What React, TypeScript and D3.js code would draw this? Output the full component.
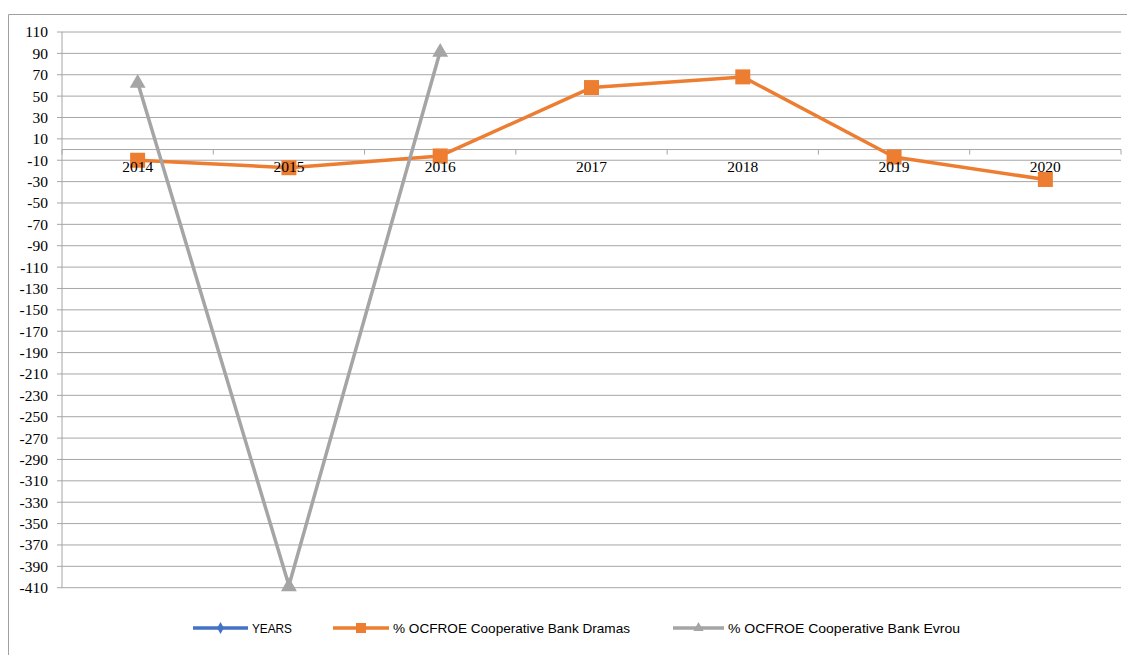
import React from "react";
import * as d3 from "d3";

const years = ["2014", "2015", "2016", "2017", "2018", "2019", "2020"];
const yearsSeries = [2014, 2015, 2016, 2017, 2018, 2019, 2020];
const dramas = [-10, -17, -6, 58, 68, -7, -28];
const evrou = [63, -408, 92];
const yTicks = d3.range(110, -411, -20);
const seriesNames = ["YEARS", "% OCFROE Cooperative Bank Dramas", "% OCFROE Cooperative Bank Evrou"];

const W = 1127;
const H = 655;
const left = 62;
const right = 1121;
const top = 32;
const bottom = 587.7;

const BLUE = "#4472C4";
const ORANGE = "#ED7D31";
const GRAY = "#A5A5A5";
const GRID = "#A6A6A6";

export default function App() {
  const x = d3.scaleBand<string>().domain(years).range([left, right]);
  const y = d3.scaleLinear().domain([-410, 110]).range([bottom, top]);
  const cx = (i: number) => (x(years[i]) as number) + x.bandwidth() / 2;
  const line = d3
    .line<number>()
    .x((_, i) => cx(i))
    .y((d) => y(d));
  const y0 = y(0);
  const boundaries = years.map((yr) => x(yr) as number).concat([right]);
  const tri = d3.symbol().type(d3.symbolTriangle).size(110)();

  const legend = [
    { name: seriesNames[0], color: BLUE, lx: 193, tx: 252, len: 40, marker: "diamond" },
    { name: seriesNames[1], color: ORANGE, lx: 333, tx: 393, len: 237, marker: "square" },
    { name: seriesNames[2], color: GRAY, lx: 673, tx: 728, len: 232, marker: "triangle" },
  ];
  const ly = 628;

  return (
    <svg
      width={W}
      height={H}
      style={{ position: "absolute", left: 0, top: 0, background: "#fff" }}
    >
      <defs>
        <clipPath id="plot">
          <rect x={left - 10} y={top - 20} width={right - left + 20} height={bottom - top + 40} />
        </clipPath>
      </defs>
      {/* outer border */}
      <path d={`M8.5,${H + 2} V14.5 H${W + 2}`} fill="none" stroke="#A0A0A0" strokeWidth={1} />

      {/* gridlines */}
      {yTicks.map((t) => (
        <line key={t} x1={left} x2={right} y1={y(t)} y2={y(t)} stroke={GRID} strokeWidth={1} />
      ))}
      {/* y axis */}
      <line x1={left} x2={left} y1={top} y2={bottom} stroke={GRID} strokeWidth={1} />
      {yTicks.map((t) => (
        <line key={"tk" + t} x1={left - 5} x2={left} y1={y(t)} y2={y(t)} stroke={GRID} strokeWidth={1} />
      ))}
      {yTicks.map((t) => (
        <text
          key={"lb" + t}
          x={48}
          y={y(t)}
          dy="0.35em"
          textAnchor="end"
          fontFamily="'Liberation Serif', 'Times New Roman', serif"
          fontSize={15.5}
          fill="#000"
        >
          {t}
        </text>
      ))}
      {/* x axis at 0 */}
      <line x1={left} x2={right} y1={y0} y2={y0} stroke={GRID} strokeWidth={1} />
      {boundaries.map((b, i) => (
        <line key={"xt" + i} x1={b} x2={b} y1={y0} y2={y0 + 5} stroke={GRID} strokeWidth={1} />
      ))}

      <g clipPath="url(#plot)">
        {/* YEARS series (off scale) */}
        <path d={line(yearsSeries) || ""} fill="none" stroke={BLUE} strokeWidth={3.5} />
        {/* Dramas */}
        <path d={line(dramas) || ""} fill="none" stroke={ORANGE} strokeWidth={3.5} strokeLinejoin="round" />
        {dramas.map((v, i) => (
          <rect key={"sq" + i} x={cx(i) - 7.5} y={y(v) - 7.5} width={15} height={15} fill={ORANGE} />
        ))}
        {/* Evrou */}
        <path d={line(evrou) || ""} fill="none" stroke={GRAY} strokeWidth={3.5} strokeLinejoin="round" />
        {evrou.map((v, i) => (
          <path key={"tr" + i} d={tri || ""} transform={`translate(${cx(i)},${y(v) + 1})`} fill={GRAY} />
        ))}
      </g>

      {/* x labels */}
      {years.map((yr, i) => (
        <text
          key={"xl" + yr}
          x={cx(i)}
          y={y0 + 17.5}
          dy="0.35em"
          textAnchor="middle"
          fontFamily="'Liberation Serif', 'Times New Roman', serif"
          fontSize={15.5}
          fill="#000"
        >
          {yr}
        </text>
      ))}

      {/* legend */}
      {legend.map((l) => (
        <g key={l.name}>
          <line x1={l.lx} x2={l.tx - 4} y1={ly} y2={ly} stroke={l.color} strokeWidth={3.5} />
          {l.marker === "square" && (
            <rect x={(l.lx + l.tx - 4) / 2 - 5} y={ly - 5} width={10} height={10} fill={l.color} />
          )}
          {l.marker === "diamond" && (
            <path
              d={d3.symbol().type(d3.symbolDiamond).size(40)() || ""}
              transform={`translate(${(l.lx + l.tx - 4) / 2},${ly})`}
              fill={l.color}
            />
          )}
          {l.marker === "triangle" && (
            <path
              d={d3.symbol().type(d3.symbolTriangle).size(45)() || ""}
              transform={`translate(${(l.lx + l.tx - 4) / 2},${ly})`}
              fill={l.color}
            />
          )}
          <text
            x={l.tx}
            y={ly}
            dy="0.35em"
            fontFamily="'Liberation Sans', Arial, sans-serif"
            fontSize={13.5}
            textLength={l.len}
            lengthAdjust="spacingAndGlyphs"
            fill="#000"
          >
            {l.name}
          </text>
        </g>
      ))}
    </svg>
  );
}
